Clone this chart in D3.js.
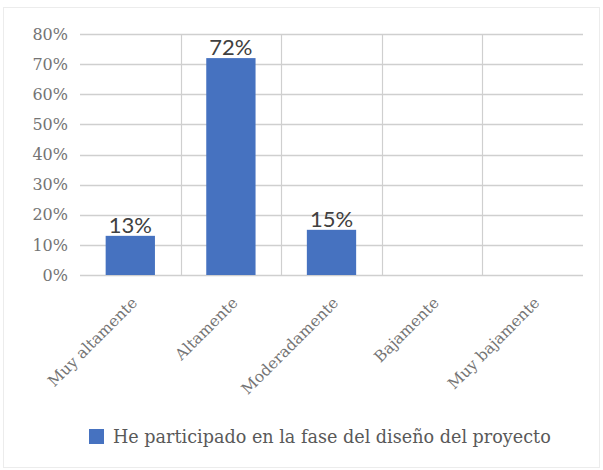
<!DOCTYPE html>
<html>
<head>
<meta charset="utf-8">
<script src="https://cdn.jsdelivr.net/npm/d3@7"></script>
<style>
  html, body { margin: 0; padding: 0; background: #fff; }
  svg { display: block; }
</style>
</head>
<body>
<svg id="chart" width="603" height="470"></svg>
<script>
const categories = ["Muy altamente", "Altamente", "Moderadamente", "Bajamente", "Muy bajamente"];
const values = [0.13, 0.72, 0.15, null, null];
const valueLabels = ["13%", "72%", "15%", "", ""];
const yTicks = [0, 0.1, 0.2, 0.3, 0.4, 0.5, 0.6, 0.7, 0.8];
const seriesName = "He participado en la fase del diseño del proyecto";

const svg = d3.select("#chart");
const plot = { left: 80, right: 583, top: 34, bottom: 275 };
const barColor = "#4672c0";
const gridColor = "#cfcfcf";
const textColor = "#747474";

// faint outer frame
svg.append("rect").attr("x", 3.5).attr("y", 7.5).attr("width", 596).attr("height", 460)
  .attr("fill", "none").attr("stroke", "#ececec");

const x = d3.scaleBand().domain(categories).range([plot.left, plot.right]).padding(0);
const y = d3.scaleLinear().domain([0, 0.8]).range([plot.bottom, plot.top]);

// horizontal gridlines
svg.append("g").selectAll("line").data(yTicks).join("line")
  .attr("x1", plot.left).attr("x2", plot.right)
  .attr("y1", d => Math.round(y(d)) + 0.5).attr("y2", d => Math.round(y(d)) + 0.5)
  .attr("stroke", gridColor).attr("stroke-width", 1.3);

// vertical gridlines at interior category boundaries
svg.append("g").selectAll("line").data(categories.slice(1)).join("line")
  .attr("x1", d => Math.round(x(d)) + 0.5).attr("x2", d => Math.round(x(d)) + 0.5)
  .attr("y1", plot.top).attr("y2", plot.bottom)
  .attr("stroke", gridColor).attr("stroke-width", 1.2);

// y axis labels
const yAxis = d3.axisLeft(y).tickValues(yTicks).tickFormat(d3.format(".0%")).tickSize(0).tickPadding(12);
const gy = svg.append("g").attr("transform", `translate(${plot.left},0)`).call(yAxis);
gy.select(".domain").remove();
gy.selectAll("text").attr("font-family", "DejaVu Serif").attr("font-size", "16px").attr("fill", textColor);

// bars
const barW = x.bandwidth() * 0.49;
const data = categories.map((c, i) => ({ c, v: values[i], label: valueLabels[i] })).filter(d => d.v != null);
svg.append("g").selectAll("rect").data(data).join("rect")
  .attr("x", d => x(d.c) + (x.bandwidth() - barW) / 2)
  .attr("width", barW)
  .attr("y", d => y(d.v))
  .attr("height", d => y(0) - y(d.v))
  .attr("fill", barColor);

// value labels
svg.append("g").selectAll("text").data(data).join("text")
  .attr("x", d => x(d.c) + x.bandwidth() / 2)
  .attr("y", d => y(d.v) - 3)
  .attr("text-anchor", "middle")
  .attr("font-family", "Lato, 'Open Sans', sans-serif")
  .attr("font-size", "22px")
  .attr("fill", "#404040")
  .text(d => d.label);

// x axis labels (rotated)
const xAxis = d3.axisBottom(x).tickSize(0).tickPadding(0);
const gx = svg.append("g").attr("transform", `translate(0,${plot.bottom})`).call(xAxis);
gx.select(".domain").remove();
gx.selectAll("text")
  .attr("font-family", "DejaVu Serif").attr("font-size", "15.5px").attr("fill", textColor)
  .attr("text-anchor", "end")
  .attr("dy", "0.35em")
  .attr("transform", "translate(4,25) rotate(-45)");

// legend
const lg = svg.append("g").attr("transform", "translate(89,429)");
lg.append("rect").attr("x", 0).attr("y", 0).attr("width", 15).attr("height", 15).attr("fill", barColor);
lg.append("text").attr("x", 24).attr("y", 14)
  .attr("font-family", "DejaVu Serif").attr("font-size", "17.6px").attr("fill", "#595959")
  .text(seriesName);
</script>
</body>
</html>
